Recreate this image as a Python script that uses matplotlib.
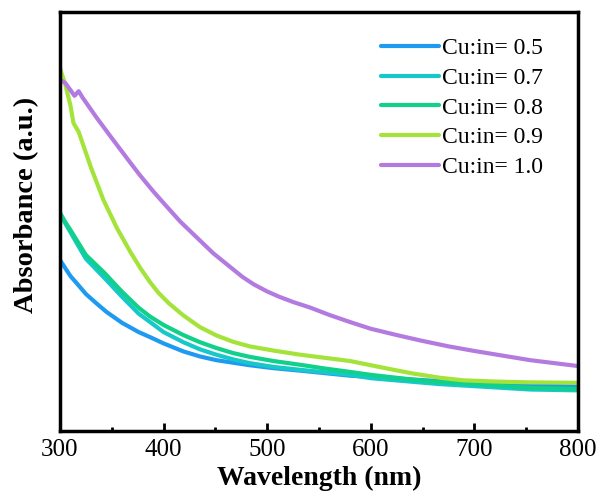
import matplotlib
matplotlib.use("Agg")
import matplotlib.pyplot as plt
from matplotlib.ticker import MultipleLocator

plt.rcParams['font.family'] = ['Liberation Serif', 'DejaVu Serif']

# Wavelength (nm) / absorbance (a.u.)
wl_10 = [300, 305, 310, 314, 318, 322, 335, 350, 368, 377, 390, 400, 416, 432, 448, 464, 476, 487, 500, 512, 526, 541, 560, 580, 600, 625, 648, 675, 700, 727, 754, 777, 800]
abs_10 = [0.838, 0.831, 0.814, 0.800, 0.811, 0.795, 0.749, 0.699, 0.640, 0.611, 0.572, 0.544, 0.500, 0.462, 0.424, 0.392, 0.368, 0.350, 0.333, 0.320, 0.307, 0.295, 0.277, 0.260, 0.244, 0.229, 0.216, 0.202, 0.191, 0.180, 0.169, 0.162, 0.155]

wl_09 = [300, 302, 305, 310, 313, 318, 330, 342, 355, 368, 378, 387, 395, 405, 419, 435, 451, 467, 483, 506, 532, 561, 580, 602, 620, 641, 667, 689, 720, 754, 800]
abs_09 = [0.866, 0.850, 0.828, 0.778, 0.735, 0.714, 0.628, 0.551, 0.484, 0.427, 0.387, 0.355, 0.330, 0.305, 0.276, 0.248, 0.228, 0.213, 0.202, 0.192, 0.182, 0.173, 0.167, 0.156, 0.147, 0.137, 0.127, 0.121, 0.118, 0.116, 0.115]

wl_08 = [300, 305, 310, 316, 325, 343, 360, 376, 387, 400, 419, 435, 451, 467, 483, 506, 532, 556, 580, 600, 657, 700, 754, 800]
abs_08 = [0.520, 0.499, 0.480, 0.456, 0.420, 0.377, 0.332, 0.294, 0.273, 0.253, 0.229, 0.212, 0.198, 0.186, 0.177, 0.167, 0.158, 0.149, 0.141, 0.134, 0.118, 0.112, 0.103, 0.100]

wl_07 = [300, 305, 310, 316, 325, 343, 360, 376, 387, 400, 419, 435, 451, 467, 483, 506, 532, 556, 580, 600, 666, 700, 754, 800]
abs_07 = [0.520, 0.496, 0.475, 0.449, 0.411, 0.365, 0.320, 0.280, 0.260, 0.236, 0.212, 0.195, 0.182, 0.171, 0.162, 0.153, 0.146, 0.140, 0.134, 0.126, 0.112, 0.107, 0.099, 0.097]

wl_05 = [300, 305, 310, 316, 325, 335, 345, 360, 376, 387, 400, 419, 435, 451, 467, 483, 506, 532, 580, 600, 666, 700, 754, 800]
abs_05 = [0.408, 0.389, 0.370, 0.353, 0.327, 0.305, 0.284, 0.258, 0.236, 0.224, 0.209, 0.190, 0.178, 0.169, 0.163, 0.157, 0.150, 0.144, 0.132, 0.129, 0.119, 0.115, 0.109, 0.106]

labels = ['Cu:in= 0.5', 'Cu:in= 0.7', 'Cu:in= 0.8', 'Cu:in= 0.9', 'Cu:in= 1.0']
colors = ['#1e9bf0', '#17c8c8', '#10d08a', '#a4e43a', '#b37be0']
series = [(wl_05, abs_05), (wl_07, abs_07), (wl_08, abs_08), (wl_09, abs_09), (wl_10, abs_10)]

fig = plt.figure(figsize=(6.02, 4.92), dpi=100)
ax = fig.add_axes([60/602, 61/492, 518/602, 419/492])

for (x, y), c, lab in zip(series, colors, labels):
    ax.plot(x, y, color=c, lw=3, label=lab, solid_capstyle='round', solid_joinstyle='round')

ax.set_xlim(300, 800)
ax.set_ylim(0, 1)
ax.xaxis.set_major_locator(MultipleLocator(100))
ax.xaxis.set_minor_locator(MultipleLocator(50))
ax.set_yticks([])
ax.tick_params(axis='x', which='major', direction='in', length=6, width=2, labelsize=18, pad=6)
ax.tick_params(axis='x', which='minor', direction='in', length=3, width=2)
for s in ax.spines.values():
    s.set_linewidth(2.5)

ax.set_xlabel('Wavelength (nm)', fontsize=20, fontweight='bold', labelpad=3)
ax.set_ylabel('Absorbance (a.u.)', fontsize=20.5, fontweight='bold')
ax.yaxis.set_label_coords(-0.04, 0.539)

ax.legend(loc='upper right', frameon=False, fontsize=17, handlelength=2.45,
          handletextpad=0.15, labelspacing=0.345, borderaxespad=0.3,
          bbox_to_anchor=(0.965, 0.978))

fig.savefig('out.png', dpi=100)
